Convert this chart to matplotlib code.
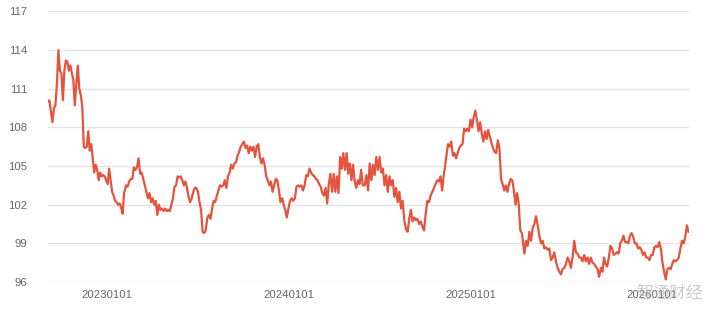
import numpy as np
import pandas as pd
import matplotlib
matplotlib.use('Agg')
import matplotlib.pyplot as plt
import matplotlib.dates as mdates

plt.rcParams['font.family'] = ['Liberation Sans', 'Noto Sans CJK SC', 'DejaVu Sans']

# index values, in segments (start date, end date, values)
seg_a = [110.0, 110.1, 109.2, 108.4, 109.5, 109.7, 111.4, 114.0, 112.4, 112.2,
         110.1, 112.4, 113.2, 113.1, 112.4, 112.8, 112.2, 111.7, 109.7, 111.4,
         112.8, 111.0, 110.5, 109.6, 106.5, 106.4, 106.5, 107.7, 106.2, 106.7,
         105.6, 104.5, 105.1, 104.7, 103.9, 104.5, 104.2, 104.3, 104.2, 103.9,
         103.6, 104.8, 103.9, 103.0, 102.7, 102.3, 102.2, 102.0, 102.1, 101.8,
         101.3, 102.9]
seg_b = [103.5, 103.4, 103.8, 104.0, 104.0, 104.9, 104.7, 104.9, 105.6, 104.4,
         104.5, 104.0, 103.5, 103.0, 102.5, 102.9, 102.2, 102.5, 102.0, 102.3,
         101.2, 102.0, 101.6, 101.7, 101.5, 101.7, 101.5, 101.6, 101.5, 102.0,
         102.5, 103.4, 103.5, 104.2, 104.1, 104.2, 103.9, 103.5, 103.8, 103.3,
         102.6, 102.2, 102.5, 103.0, 103.3, 103.3, 103.0, 102.2, 101.6, 99.9]
seg_c = [99.8, 100.0, 101.0, 101.2, 100.9, 101.7, 102.3, 102.2, 102.7, 103.1,
         103.5, 103.4, 103.5, 103.9, 103.3, 104.2, 104.5, 105.1, 104.8, 105.2,
         105.3, 105.8, 106.1, 106.5, 106.7, 106.9, 106.4, 106.6, 106.0, 106.5,
         106.2, 106.5, 105.7, 106.5, 106.7, 105.7, 105.2, 105.6, 105.1, 104.2,
         103.9, 103.5, 103.8, 103.0, 103.5, 104.0, 103.9, 103.1, 102.2, 102.5,
         102.0]
seg_d = [101.6, 101.0, 101.7, 102.3, 102.5, 102.3, 102.5, 103.4, 103.5, 103.4,
         103.5, 103.1, 103.5, 104.3, 104.2, 104.8, 104.5, 104.3, 104.2, 104.0,
         103.9, 103.6, 103.4, 102.9, 102.7, 103.3, 102.1, 103.6, 104.4, 103.0,
         104.4, 103.0, 104.2, 102.9, 105.7, 104.8, 106.0, 104.7, 106.0, 104.4,
         105.2, 103.9, 105.1, 103.8, 103.3, 103.9, 103.6, 104.7, 103.5]
seg_e = [103.5, 104.3, 103.1, 105.2, 103.9, 105.1, 104.3, 105.7, 104.7, 105.7,
         104.5, 104.8, 103.5, 104.3, 103.0, 104.2, 103.5, 103.9, 102.6, 103.3,
         102.2, 103.0, 101.7, 102.3, 100.8, 100.1, 99.9, 100.9, 101.6, 100.7,
         101.0, 100.8, 100.9, 100.5, 100.7, 100.3, 100.0, 101.3, 102.3, 102.2,
         102.7, 103.0, 103.3, 103.6, 103.9, 103.8, 104.2, 103.1, 104.4]
seg_f = [104.8, 105.8, 106.7, 106.5, 106.9, 105.8, 106.0, 105.6, 106.0, 106.4,
         106.6, 106.7, 107.9, 107.7, 107.9, 107.7, 108.6, 108.0, 108.8, 109.3,
         108.6, 107.7, 108.4, 107.5, 106.9, 107.7, 107.1, 107.8, 107.3, 106.8,
         106.4, 106.1, 106.0, 107.0, 106.4, 104.0, 103.6, 103.1, 103.5, 103.0,
         103.6, 104.0, 103.9, 103.1, 102.0, 102.9, 102.1, 100.0, 99.8]
seg_g = [98.2, 99.2, 98.8, 99.9, 99.2, 100.2, 100.5, 101.1, 100.4, 99.6,
         99.0, 99.2, 98.6, 98.7, 98.5, 98.6, 97.7, 97.9, 98.3, 97.6,
         97.1, 96.8, 96.6, 97.0, 97.1, 97.4, 97.9, 97.6, 97.1, 97.9,
         99.2, 98.3, 98.2, 97.9, 97.9, 97.6, 98.1, 97.6, 97.9, 97.4,
         97.9, 97.5, 97.4, 97.2, 97.0, 96.4, 97.1, 96.8]
seg_h = [97.9, 97.4, 97.2, 97.9, 98.8, 98.6, 98.1, 98.2, 98.3, 98.2,
         99.0, 99.2, 99.6, 99.1, 99.1, 99.0, 99.6, 99.8, 99.5, 99.0,
         99.0, 98.6, 98.7, 98.5, 98.1, 98.3, 97.9, 97.9, 97.7, 98.1,
         98.1, 98.7, 98.8, 98.7, 99.1, 98.6, 97.5, 96.8, 96.2, 97.0,
         97.1, 97.0, 97.4, 97.7, 97.6, 97.7, 97.9, 98.6, 99.2, 99.0,
         99.5, 100.4, 99.9]

segments = [
    ('2022-09-04', '2023-02-04', seg_a),
    ('2023-02-08', '2023-07-12', seg_b),
    ('2023-07-15', '2023-12-22', seg_c),
    ('2023-12-25', '2024-05-29', seg_d),
    ('2024-06-02', '2024-11-08', seg_e),
    ('2024-11-10', '2025-04-14', seg_f),
    ('2025-04-19', '2025-09-23', seg_g),
    ('2025-09-26', '2026-03-15', seg_h),
]

y_ticks = [96, 99, 102, 105, 108, 111, 114, 117]
x_ticks = ['2023-01-01', '2024-01-01', '2025-01-01', '2026-01-01']

dates = []
values = []
for start, end, vals in segments:
    dates.extend(pd.date_range(start, end, periods=len(vals)))
    values.extend(vals)
series = pd.Series(values, index=pd.DatetimeIndex(dates))

fig = plt.figure(figsize=(7.16, 3.10), dpi=100)
ax = fig.add_axes([0.067, 0.0903, 0.8946, 0.8729])

ax.plot(series.index, series.values, color='#e5533d', linewidth=1.6)

ax.set_ylim(96, 117)
ax.set_yticks(y_ticks)
ax.set_xlim(series.index[0], series.index[-1])
ax.set_xticks(pd.to_datetime(x_ticks))
ax.xaxis.set_major_formatter(mdates.DateFormatter('%Y%m%d'))

ax.grid(axis='y', color='#e3e3e3', linewidth=1)
ax.set_axisbelow(True)
for s in ax.spines.values():
    s.set_visible(False)
ax.tick_params(axis='y', length=0, pad=15, labelsize=8.2, labelcolor='#666666')
ax.tick_params(axis='x', length=0, pad=6, labelsize=8.2, labelcolor='#666666')

# watermark
fig.text(0.935, 0.055, '智通财经', ha='center', va='center', fontsize=12,
         color='#aaaaaa', alpha=0.6, family=['Noto Sans CJK SC', 'DejaVu Sans'])

fig.savefig('out.png', dpi=100, facecolor='white')
